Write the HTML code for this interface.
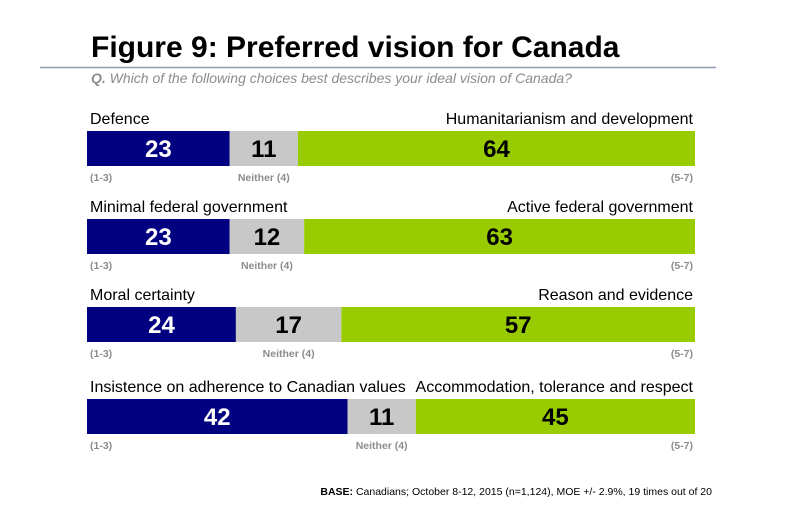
<!DOCTYPE html>
<html><head><meta charset="utf-8"><style>
body{margin:0;background:#fff;font-family:"Liberation Sans",sans-serif}
#c{position:relative;width:800px;height:508px;overflow:hidden}
</style></head><body>
<div id="c">
<svg width="800" height="508">
<text x="91" y="57" font-size="30" font-weight="bold" fill="#000">Figure 9: Preferred vision for Canada</text>
<line x1="40" y1="67.5" x2="716" y2="67.5" stroke="#8a9bb0" stroke-width="1.5"/>
<text x="91" y="83" font-size="14" font-style="italic" fill="#8c8c8c"><tspan font-weight="bold">Q.</tspan> Which of the following choices best describes your ideal vision of Canada?</text>
<g id="rows"></g>
<text x="712" y="495" font-size="10.5" text-anchor="end" fill="#000"><tspan font-weight="bold">BASE:</tspan> Canadians; October 8-12, 2015 (n=1,124), MOE +/- 2.9%, 19 times out of 20</text>
</svg>
</div>
<script>
const leftLabels=["Defence","Minimal federal government","Moral certainty","Insistence on adherence to Canadian values"];
const rightLabels=["Humanitarianism and development","Active federal government","Reason and evidence","Accommodation, tolerance and respect"];
const leftVals=[23,23,24,42];
const neitherVals=[11,12,17,11];
const rightVals=[64,63,57,45];
const X0=87,X1=695,rowTop=[131,219,307,399],barH=35;
const NS="http://www.w3.org/2000/svg";
const g=document.getElementById("rows");
function mk(t,a,txt){const e=document.createElementNS(NS,t);for(const k in a)e.setAttribute(k,a[k]);if(txt!=null)e.textContent=txt;g.appendChild(e);return e;}
for(let i=0;i<leftVals.length;i++){
  const tot=leftVals[i]+neitherVals[i]+rightVals[i];
  const sx=v=>v/tot*(X1-X0);
  const y=rowTop[i];
  const segs=[[leftVals[i],"#000080","#fff","left"],[neitherVals[i],"#c8c8c8","#000","neither"],[rightVals[i],"#99cc00","#000","right"]];
  let x=X0;
  let gx=0,gw=0;
  segs.forEach(s=>{
    const w=sx(s[0]);
    const r=mk("rect",{x:x,y:y,width:w,height:barH,fill:s[1]});
    
    
    const t=mk("text",{x:x+w/2,y:y+26,"font-size":24,"font-weight":"bold","text-anchor":"middle",fill:s[2]},s[0]);
    
    
    if(s[3]==="neither"){gx=x;gw=w;}
    x+=w;
  });
  const l=mk("text",{x:X0+3,y:y-7,"font-size":16,fill:"#000"},leftLabels[i]);
  
  
  const r=mk("text",{x:X1-2,y:y-7,"font-size":16,"text-anchor":"end",fill:"#000"},rightLabels[i]);
  
  
  const a=mk("text",{x:X0+3,y:y+50,"font-size":10.5,"font-weight":"bold",fill:"#8c8c8c"},"(1-3)");
  
  
  const b=mk("text",{x:gx+gw/2,y:y+50,"font-size":10.5,"font-weight":"bold","text-anchor":"middle",fill:"#8c8c8c"},"Neither (4)");
  
  
  const c=mk("text",{x:X1-2,y:y+50,"font-size":10.5,"font-weight":"bold","text-anchor":"end",fill:"#8c8c8c"},"(5-7)");
  
  
}
</script>
</body></html>
